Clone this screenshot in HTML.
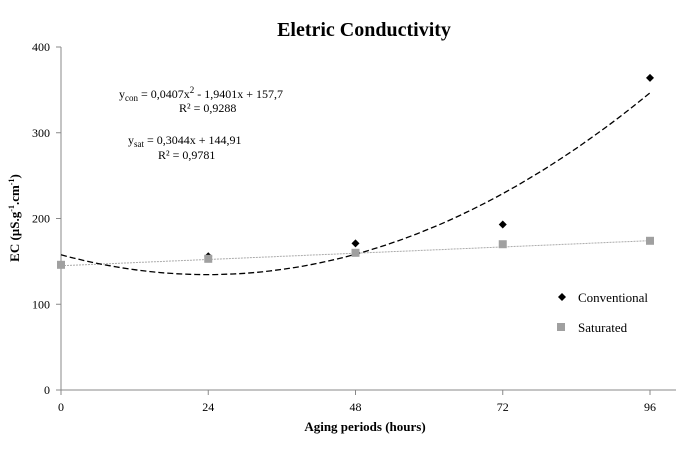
<!DOCTYPE html>
<html><head><meta charset="utf-8"><style>
body{margin:0;background:#fff;}
svg text{font-family:"Liberation Serif",serif;fill:#000;}
</style></head><body>
<svg id="c" width="699" height="444" xmlns="http://www.w3.org/2000/svg">
<text x="364" y="36" font-size="20" font-weight="bold" text-anchor="middle">Eletric Conductivity</text>
<g id="axes"></g>
<g id="marks"></g>
<text x="365" y="431" font-size="13" font-weight="bold" text-anchor="middle">Aging periods (hours)</text>
<text transform="translate(19,218) rotate(-90)" font-size="13" font-weight="bold" text-anchor="middle">EC (µS.g<tspan font-size="8" dy="-5">-1</tspan><tspan dy="5">.cm</tspan><tspan font-size="8" dy="-5">-1</tspan><tspan dy="5">)</tspan></text>
<g font-size="12">
<text x="119" y="98">y<tspan font-size="9" dy="3">con</tspan><tspan dy="-3"> = 0,0407x</tspan><tspan font-size="9" dy="-5">2</tspan><tspan dy="5">  - 1,9401x  + 157,7</tspan></text>
<text x="179" y="112">R² = 0,9288</text>
</g>
<g font-size="12">
<text x="128" y="144">y<tspan font-size="9" dy="3">sat</tspan><tspan dy="-3"> = 0,3044x  + 144,91</tspan></text>
<text x="158" y="159">R² = 0,9781</text>
</g>
<g>
<path d="M562,293 l4,4 l-4,4 l-4,-4z" fill="#000"/>
<text x="578" y="302" font-size="13" font-family="Liberation Sans">Conventional</text>
<rect x="557" y="323" width="8" height="8" fill="#a0a0a0"/>
<text x="578" y="332" font-size="13" font-family="Liberation Sans">Saturated</text>
</g>
</svg>
<script>
const xCats=[0,24,48,72,96];
const conventional=[146,156,171,193,364];
const saturated=[146,153,160,170,174];
const yTicks=[0,100,200,300,400];
const conCoef=[0.0407,-1.9401,157.7];
const satCoef=[0.3044,144.91];
const NS="http://www.w3.org/2000/svg";
const X=v=>61+v*(650-61)/96;
const Y=v=>390-v*(390-47)/400;
const ax=document.getElementById('axes'),mk=document.getElementById('marks');
function mkEl(t,a,p){const e=document.createElementNS(NS,t);for(const k in a)e.setAttribute(k,a[k]);p.appendChild(e);return e;}
let l=mkEl('line',{x1:61,y1:47,x2:61,y2:390,stroke:'#888'},ax);


l=mkEl('line',{x1:61,y1:390,x2:676,y2:390,stroke:'#888'},ax);


yTicks.forEach(v=>{
 mkEl('line',{x1:56,y1:Y(v),x2:61,y2:Y(v),stroke:'#888'},ax);
 const t=mkEl('text',{x:50,y:Y(v)+4,'font-size':12,'text-anchor':'end'},ax);t.textContent=v;
 
 
});
xCats.forEach(v=>{
 mkEl('line',{x1:X(v),y1:390,x2:X(v),y2:395,stroke:'#888'},ax);
 const t=mkEl('text',{x:X(v),y:411,'font-size':12,'text-anchor':'middle'},ax);t.textContent=v;
 
 
});
let d1='',d2='';
for(let x=0;x<=96;x+=1){
 const yc=conCoef[0]*x*x+conCoef[1]*x+conCoef[2];
 const ys=satCoef[0]*x+satCoef[1];
 d1+=(x?'L':'M')+X(x).toFixed(1)+','+Y(yc).toFixed(1);
 d2+=(x?'L':'M')+X(x).toFixed(1)+','+Y(ys).toFixed(1);
}
let p=mkEl('path',{d:d2,fill:'none',stroke:'#aaa','stroke-width':1,'stroke-dasharray':'2,1'},mk);


p=mkEl('path',{d:d1,fill:'none',stroke:'#000','stroke-width':1.3,'stroke-dasharray':'6,3'},mk);


conventional.forEach((v,i)=>{
 const x=X(xCats[i]),y=Y(v);
 const e=mkEl('path',{d:`M${x},${y-4}l4,4l-4,4l-4,-4z`,fill:'#000'},mk);
 
 
});
saturated.forEach((v,i)=>{
 const x=X(xCats[i]),y=Y(v);
 const e=mkEl('rect',{x:x-4,y:y-4,width:8,height:8,fill:'#a0a0a0'},mk);
 
 
});
</script>
</body></html>
